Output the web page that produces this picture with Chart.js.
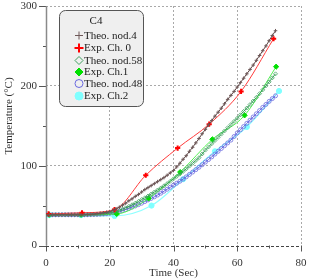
<!DOCTYPE html>
<html>
<head>
<meta charset="utf-8">
<script src="https://cdn.jsdelivr.net/npm/chart.js"></script>
<style>html,body{margin:0;padding:0;background:#fff;}</style>
</head>
<body>
<canvas id="chart" width="309" height="279"></canvas>
<script>
// time of the simulated curves (sec)
var theoTime = [0,1,2,3,4,5,6,7,8,9,10,11,12,13,14,15,16,17,18,19,20,21,22,23,24,25,26,27,28,29,30,31,32,33,34,35,
    36,37,38,39,40,41,42,43,44,45,46,47,48,49,50,51,52,53,54,55,56,57,58,59,60,61,62,63,64,65,66,67,68,69,70,71,72];
var theoNod4 = [38.5,38.5,38.5,38.5,38.5,38.5,38.5,38.5,38.5,38.5,38.5,38.5,38.7,38.9,39.1,39.4,39.8,40.3,40.9,41.6,
    42.5,44,46,48,50.5,53,56,58.5,61.5,64,67,70,72.5,75,77.5,80,82.5,85,88,91,94,98.5,103,108,112.5,118,123,128.5,
    134,140,145.5,151,156.5,162,167,172,177.5,183,188,193,198.5,204,209.5,215,220.5,226,232,238,244,250,256.5,263,269];
var theoNod58 = [38.5,38.5,38.5,38.5,38.5,38.5,38.5,38.5,38.5,38.5,38.5,38.5,38.5,38.6,38.8,39,39.2,39.5,39.8,40.3,
    40.8,41.6,42.5,44,45.5,47.2,49,51,53,55.2,57.5,59.7,62,64.5,67,69.5,72,74.7,77.5,80.5,83.5,86.5,89.5,92.7,96,99.5,
    103,106.5,110,114.7,119.5,123.5,127.5,131.5,135.5,139.5,143.5,147.5,151.5,155.5,159.5,163.7,168,172.2,176.5,181,
    185.5,190.2,195,200,205,210,215];
var theoNod48 = [38.5,38.5,38.5,38.5,38.5,38.5,38.5,38.5,38.5,38.5,38.5,38.5,38.5,38.6,38.7,38.8,39,39.2,39.5,39.9,
    40.3,41,41.8,42.8,43.8,45.1,46.5,48,49.5,51.2,53,55,57,59,61,63.2,65.5,68,70.5,73,75.5,78,80.5,83.2,86,89,92,95,98,
    101.2,104.5,107.7,111,114.5,118,121.5,125,128.5,132,136.5,141,145,149,153,157,161,165,169,173,176.7,180.5,184,187.5];

// thermocouple readings
var ch0Time = [0.8, 11.3, 21.5, 31.3, 41.3, 51.2, 61.2, 71.4];
var ch0Temp = [39.5, 41, 45, 88, 122, 152, 193, 259];
var ch1Time = [1, 11, 22.2, 32.2, 42.1, 52.2, 62.3, 72.2];
var ch1Temp = [38.5, 38.5, 39.5, 59, 92, 133, 163, 224];
var ch2Time = [1, 11, 21.5, 33.1, 43, 53, 63, 73.1];
var ch2Temp = [38, 38, 37, 50, 83, 118, 148.5, 193.5];

var xTicks = [0, 20, 40, 60, 80];
var yTicks = [0, 100, 200, 300];
var legendTitle = 'C4';

var serif = "'Liberation Serif', 'Times New Roman', serif";

var toPoints = function(xs, ys){
    var out = [];
    for (var i = 0; i < xs.length; i++) out.push({x: xs[i], y: ys[i]});
    return out;
};

var datasets = [
    {label: 'Theo. nod.4', data: toPoints(theoTime, theoNod4), borderColor: '#5e4444', borderWidth: 1,
        pointStyle: 'cross', pointRadius: 1.8, pointBorderWidth: 1, pointBorderColor: '#6e5858', legendRadius: 4},
    {label: 'Exp. Ch. 0', data: toPoints(ch0Time, ch0Temp), borderColor: '#ff3a3a', borderWidth: 1,
        pointStyle: 'cross', pointRadius: 2.6, pointBorderWidth: 2, pointBorderColor: '#ff0000', legendRadius: 4.5,
        cubicInterpolationMode: 'monotone'},
    {label: 'Theo. nod.58', data: toPoints(theoTime, theoNod58), borderColor: '#30a050', borderWidth: 1,
        pointStyle: 'rectRot', pointRadius: 2, pointBorderWidth: 0.8, pointBorderColor: '#40a060',
        pointBackgroundColor: 'rgba(255,255,255,0)', legendRadius: 4},
    {label: 'Exp. Ch.1', data: toPoints(ch1Time, ch1Temp), borderColor: '#50f050', borderWidth: 1,
        pointStyle: 'rectRot', pointRadius: 2.6, pointBorderWidth: 1, pointBorderColor: '#00e000',
        pointBackgroundColor: '#00e000', legendRadius: 4, cubicInterpolationMode: 'monotone'},
    {label: 'Theo. nod.48', data: toPoints(theoTime, theoNod48), borderColor: '#6262dc', borderWidth: 1,
        pointStyle: 'circle', pointRadius: 2, pointBorderWidth: 0.8, pointBorderColor: '#6a6ae0',
        pointBackgroundColor: 'rgba(255,255,255,0)', legendRadius: 4},
    {label: 'Exp. Ch.2', data: toPoints(ch2Time, ch2Temp), borderColor: '#90ffff', borderWidth: 1.2,
        pointStyle: 'circle', pointRadius: 2.6, pointBorderWidth: 1, pointBorderColor: '#80ffff',
        pointBackgroundColor: '#80ffff', legendRadius: 4, cubicInterpolationMode: 'monotone'}
];
datasets.forEach(function(d){ d.fill = false; d.tension = d.tension || 0; });

// axis lines, small ticks, y title and the boxed legend
var decor = {
    id: 'decor',
    beforeDatasetsDraw: function(chart){
        var ctx = chart.ctx, a = chart.chartArea;
        var xs = chart.scales.x, ys = chart.scales.y;
        ctx.save();
        ctx.strokeStyle = '#555';
        ctx.lineWidth = 1;
        for (var v = 0; v <= 80; v += 10) {
            var px = Math.round(xs.getPixelForValue(v)) + 0.5;
            ctx.beginPath();
            ctx.moveTo(px, a.bottom);
            ctx.lineTo(px, a.bottom + (v % 20 === 0 ? 6 : 3));
            ctx.stroke();
        }
        for (var w = 0; w <= 300; w += 50) {
            var py = Math.round(ys.getPixelForValue(w)) + 0.5;
            ctx.beginPath();
            ctx.moveTo(a.left, py);
            ctx.lineTo(a.left - (w % 100 === 0 ? 7 : 3), py);
            ctx.stroke();
        }
        // y axis, solid gray
        ctx.strokeStyle = '#8a8a8a';
        ctx.lineWidth = 1.5;
        ctx.beginPath();
        ctx.moveTo(Math.round(a.left) + 0.5, a.top);
        ctx.lineTo(Math.round(a.left) + 0.5, a.bottom);
        ctx.stroke();
        // x axis, dashed
        ctx.strokeStyle = '#444';
        ctx.lineWidth = 1;
        ctx.setLineDash([3, 2]);
        ctx.beginPath();
        ctx.moveTo(a.left, Math.round(a.bottom) + 0.5);
        ctx.lineTo(a.right, Math.round(a.bottom) + 0.5);
        ctx.stroke();
        ctx.restore();

        ctx.save();
        ctx.fillStyle = '#333';
        ctx.font = '11px ' + serif;
        ctx.textAlign = 'center';
        ctx.textBaseline = 'middle';
        ctx.translate(9.5, 116);
        ctx.rotate(-Math.PI / 2);
        ctx.fillText('Temperature (\u00B0C)', 0, 0);
        ctx.restore();
    },
    afterDatasetsDraw: function(chart){
        var ctx = chart.ctx;
        var bx = 59.5, by = 10.5, bw = 84, bh = 96, r = 6;
        ctx.save();
        ctx.beginPath();
        ctx.moveTo(bx + r, by);
        ctx.arcTo(bx + bw, by, bx + bw, by + bh, r);
        ctx.arcTo(bx + bw, by + bh, bx, by + bh, r);
        ctx.arcTo(bx, by + bh, bx, by, r);
        ctx.arcTo(bx, by, bx + bw, by, r);
        ctx.closePath();
        ctx.fillStyle = '#efefef';
        ctx.fill();
        ctx.strokeStyle = '#555';
        ctx.lineWidth = 1;
        ctx.stroke();

        ctx.font = '11px ' + serif;
        ctx.fillStyle = '#222';
        ctx.textBaseline = 'middle';
        ctx.textAlign = 'center';
        ctx.fillText(legendTitle, 96, 21.5);
        ctx.textAlign = 'left';
        var rows = [35.5, 48, 60.5, 72, 83.5, 96];
        datasets.forEach(function(d, i){
            ctx.save();
            ctx.strokeStyle = d.pointBorderColor;
            ctx.fillStyle = d.pointBackgroundColor || d.pointBorderColor;
            ctx.lineWidth = Math.max(1, d.pointBorderWidth);
            Chart.helpers.drawPoint(ctx, {pointStyle: d.pointStyle, radius: d.legendRadius,
                borderWidth: Math.max(1, d.pointBorderWidth), rotation: 0}, 79, rows[i]);
            ctx.restore();
            ctx.fillText(d.label, 84, rows[i] + 0.5);
        });
        ctx.restore();
    }
};

var gridColor = function(every){
    return function(c){
        var v = c.tick ? c.tick.value : 0;
        return (v !== 0 && v % every === 0) ? '#a9a9a9' : 'rgba(0,0,0,0)';
    };
};

var chartObj = new Chart(document.getElementById('chart').getContext('2d'), {
    type: 'line',
    data: {datasets: datasets},
    options: {
        responsive: false,
        animation: false,
        layout: {padding: {top: 5, right: 8, left: 0, bottom: 0}},
        plugins: {legend: {display: false}, tooltip: {enabled: false}},
        scales: {
            x: {
                type: 'linear', min: 0, max: 80,
                afterFit: function(s){ s.height = 33.5; s.paddingLeft = 0; s.paddingRight = 0; },
                ticks: {stepSize: 10, padding: 11, color: '#333', maxRotation: 0, autoSkip: false,
                    font: {family: serif, size: 11},
                    callback: function(v){ return xTicks.indexOf(v) >= 0 ? v : ''; }},
                grid: {color: gridColor(20), drawTicks: false, lineWidth: 1},
                border: {display: false, dash: [2, 2]},
                title: {display: true, text: 'Time (Sec)', color: '#333', padding: {top: 0, bottom: 0},
                    font: {family: serif, size: 11, lineHeight: 1.1}}
            },
            y: {
                min: 0, max: 300,
                afterFit: function(s){ s.width = 46; s.paddingTop = 0; s.paddingBottom = 0; },
                ticks: {stepSize: 50, padding: 9, color: '#333', autoSkip: false,
                    font: {family: serif, size: 11},
                    callback: function(v){ return yTicks.indexOf(v) >= 0 ? v : ''; }},
                grid: {color: gridColor(100), drawTicks: false, lineWidth: 1},
                border: {display: false, dash: [2, 2]}
            }
        }
    },
    plugins: [decor]
});
</script>
</body>
</html>
